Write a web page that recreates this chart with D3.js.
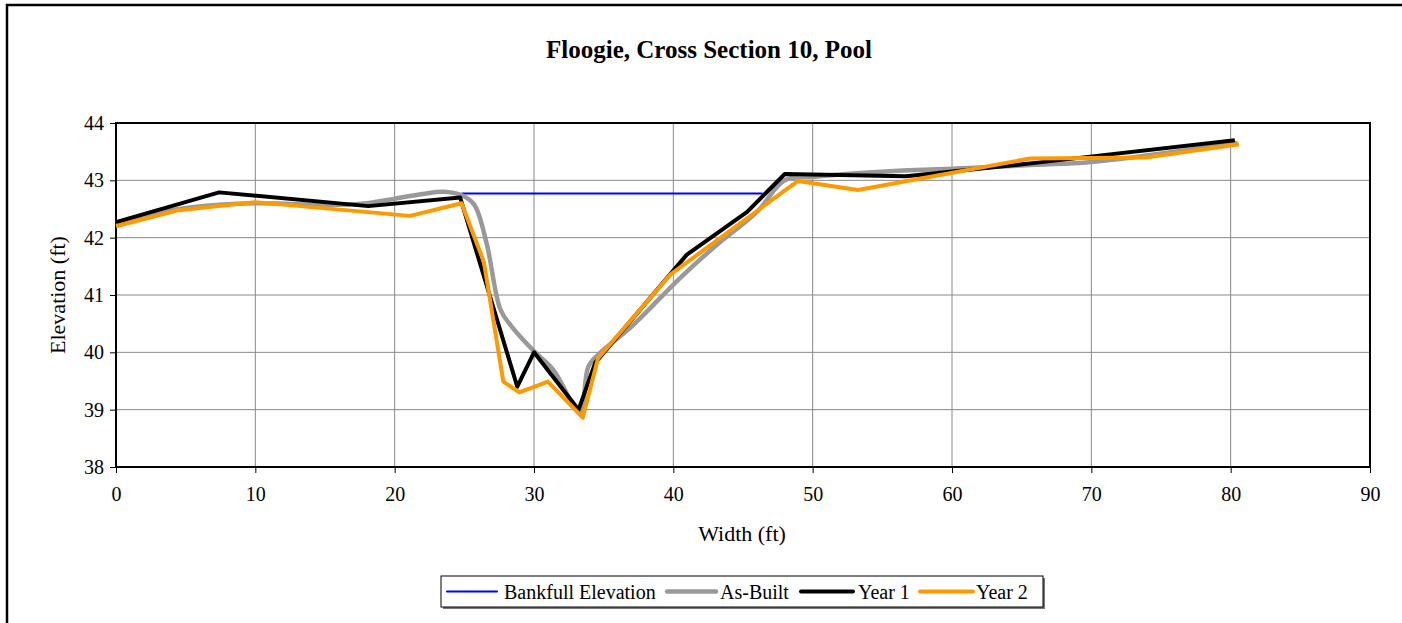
<!DOCTYPE html>
<html><head><meta charset="utf-8">
<script src="https://cdn.jsdelivr.net/npm/d3@7"></script>
<style>
html,body{margin:0;padding:0;background:#fff;}
svg text{font-family:"Liberation Serif","Times New Roman",serif;fill:#000;}
</style></head>
<body>
<svg id="chart" width="1402" height="623"></svg>
<script>
const title = "Floogie, Cross Section 10, Pool";
const xTicks = [0,10,20,30,40,50,60,70,80,90];
const yTicks = [38,39,40,41,42,43,44];

const bankfullX = [24.8, 46.4];
const bankfullY = [42.77, 42.77];

const asBuiltX = [0, 4.5, 10, 15, 18, 20, 22, 23.5, 24.8, 25.7, 26.6, 27.6, 28.4, 30, 31.4, 33.3, 33.9, 34.7, 37, 40.5, 43, 46, 48, 50, 56.5, 60, 66, 70, 80.5];
const asBuiltY = [42.25, 42.5, 42.6, 42.57, 42.6, 42.68, 42.76, 42.8, 42.74, 42.58, 41.9, 40.74, 40.45, 40.02, 39.69, 38.96, 39.75, 39.98, 40.45, 41.3, 41.85, 42.45, 43.0, 43.06, 43.17, 43.2, 43.27, 43.32, 43.65];

const year1X = [0, 7.4, 18.1, 24.7, 28.8, 30.0, 33.2, 34.4, 40.95, 45.3, 48.0, 56.7, 65.8, 80.3];
const year1Y = [42.27, 42.79, 42.55, 42.70, 39.40, 40.0, 39.0, 39.82, 41.70, 42.45, 43.11, 43.07, 43.3, 43.70];

const year2X = [0, 4.5, 10, 21.1, 24.8, 26.4, 27.8, 28.95, 31.0, 33.5, 34.6, 39.8, 48.95, 53.25, 65.6, 73.9, 80.6];
const year2Y = [42.2, 42.48, 42.62, 42.38, 42.6, 41.58, 39.49, 39.30, 39.49, 38.86, 39.9, 41.36, 42.99, 42.83, 43.38, 43.40, 43.63];

const svg = d3.select("#chart");
const L = 116, R = 1370, T = 123, B = 467;
const x = d3.scaleLinear().domain([0,90]).range([L,R]);
const y = d3.scaleLinear().domain([38,44]).range([B,T]);

// outer frame
svg.append("rect").attr("x",7).attr("y",5).attr("width",1420).attr("height",640)
  .attr("fill","none").attr("stroke","#000").attr("stroke-width",2.5);

// title
svg.append("text").attr("x",709).attr("y",58).attr("text-anchor","middle")
  .style("font-size","25px").style("font-weight","bold").text(title);

// gridlines
const grid = svg.append("g");
grid.selectAll("line.h").data(yTicks.slice(1,-1)).join("line")
  .attr("x1",L).attr("x2",R).attr("y1",d=>y(d)).attr("y2",d=>y(d))
  .attr("stroke","#888").attr("stroke-width",1);
grid.selectAll("line.v").data(xTicks.slice(1,-1)).join("line")
  .attr("y1",T).attr("y2",B).attr("x1",d=>x(d)).attr("x2",d=>x(d))
  .attr("stroke","#888").attr("stroke-width",1);

// axes
const xAxis = d3.axisBottom(x).tickValues(xTicks).tickSize(6).tickPadding(14).tickFormat(d3.format("d"));
const gx = svg.append("g").attr("transform",`translate(0,${B})`).call(xAxis);
gx.select(".domain").remove();
gx.selectAll("line").attr("stroke","#000");
gx.selectAll("text").style("font-size","20px").style("font-family","Liberation Serif");

const yAxis = d3.axisLeft(y).tickValues(yTicks).tickSize(6).tickPadding(6).tickFormat(d3.format("d"));
const gy = svg.append("g").attr("transform",`translate(${L},0)`).call(yAxis);
gy.select(".domain").remove();
gy.selectAll("line").attr("stroke","#000");
gy.selectAll("text").style("font-size","20px").style("font-family","Liberation Serif");

// plot border
svg.append("rect").attr("x",L).attr("y",T).attr("width",R-L).attr("height",B-T)
  .attr("fill","none").attr("stroke","#000").attr("stroke-width",2);

// axis titles
svg.append("text").attr("x",742).attr("y",541).attr("text-anchor","middle")
  .style("font-size","22px").text("Width (ft)");
svg.append("text").attr("transform","translate(65,295) rotate(-90)").attr("text-anchor","middle")
  .style("font-size","22px").text("Elevation (ft)");

// series
const zip = (xs,ys)=>xs.map((v,i)=>[v,ys[i]]);
const lineLin = d3.line().x(d=>x(d[0])).y(d=>y(d[1]));
const lineSmooth = d3.line().x(d=>x(d[0])).y(d=>y(d[1])).curve(d3.curveCatmullRom.alpha(0.5));

const plot = svg.append("g");
plot.append("path").datum(zip(bankfullX,bankfullY)).attr("d",lineLin)
  .attr("fill","none").attr("stroke","#0000ff").attr("stroke-width",2);
plot.append("path").datum(zip(asBuiltX,asBuiltY)).attr("d",lineSmooth)
  .attr("fill","none").attr("stroke","#999999").attr("stroke-width",4.5).attr("stroke-linejoin","round");
plot.append("path").datum(zip(year1X,year1Y)).attr("d",lineLin)
  .attr("fill","none").attr("stroke","#000").attr("stroke-width",4).attr("stroke-linejoin","round");
plot.append("path").datum(zip(year2X,year2Y)).attr("d",lineLin)
  .attr("fill","none").attr("stroke","#ff9900").attr("stroke-width",4).attr("stroke-linejoin","round");

// legend
const lg = svg.append("g");
lg.append("rect").attr("x",443).attr("y",578).attr("width",602).attr("height",31).attr("fill","#777");
lg.append("rect").attr("x",441).attr("y",576).attr("width",602).attr("height",31)
  .attr("fill","#fff").attr("stroke","#000").attr("stroke-width",1);
const items = [
  {label:"Bankfull Elevation", color:"#0000ff", w:2, x0:447, x1:497, tx:504},
  {label:"As-Built", color:"#999999", w:4.5, x0:667, x1:716, tx:720},
  {label:"Year 1", color:"#000", w:4, x0:801, x1:853, tx:858},
  {label:"Year 2", color:"#ff9900", w:4, x0:920, x1:973, tx:976}
];
items.forEach(it=>{
  lg.append("line").attr("x1",it.x0).attr("x2",it.x1).attr("y1",591.5).attr("y2",591.5)
    .attr("stroke",it.color).attr("stroke-width",it.w).attr("stroke-linecap","round");
  lg.append("text").attr("x",it.tx).attr("y",599)
    .style("font-size","20px").text(it.label);
});
</script>
</body></html>
